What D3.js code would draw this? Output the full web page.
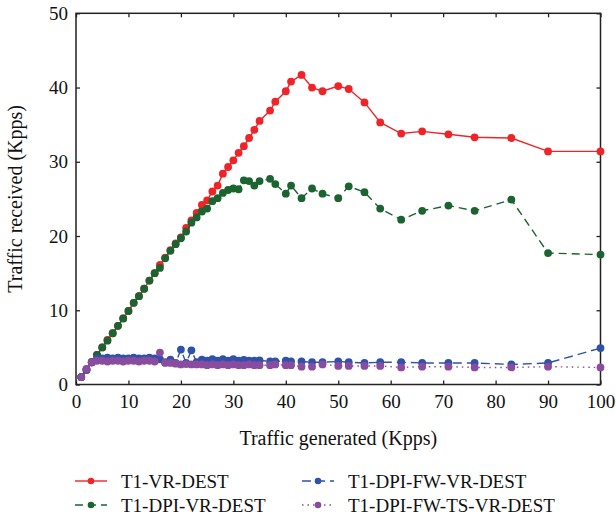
<!DOCTYPE html>
<html>
<head>
<meta charset="utf-8">
<script src="https://cdn.jsdelivr.net/npm/d3@7"></script>
<style>
  body { margin: 0; background: #fff; }
  text { font-family: "Liberation Serif", "DejaVu Serif", serif; fill: #111; }
</style>
</head>
<body>
<div id="chart-area"></div>
<script>
// traffic generated (Kpps), shared by every series
var xs = [1, 2, 3, 4, 5, 6, 7, 8, 9, 10, 11, 12, 13, 14, 15, 16, 17, 18, 19, 20,
  21, 22, 23, 24, 25, 26, 27, 28, 29, 30, 31, 32, 33, 34, 35, 37, 38, 40, 41, 43,
  45, 47, 50, 52, 55, 58, 62, 66, 71, 76, 83, 90, 100];

var vrDest = [1.0, 2.0, 3.0, 4.0, 5.0, 6.0, 6.9, 7.9, 8.9, 9.9, 11.0, 11.9, 12.9, 14.0, 15.0, 16.1, 17.1, 18.1, 19.0, 19.8,
  21.1, 22.1, 23.1, 24.2, 24.8, 26.0, 26.8, 28.4, 29.3, 30.2, 31.2, 32.1, 33.2, 34.3, 35.5, 36.9, 38.1, 39.5, 40.8, 41.7,
  40.0, 39.5, 40.2, 39.8, 38.0, 35.3, 33.8, 34.1, 33.7, 33.3, 33.2, 31.4, 31.4];

var dpiVrDest = [1.0, 2.0, 3.0, 4.0, 5.0, 5.9, 6.9, 7.9, 8.9, 9.9, 11.0, 11.9, 12.9, 14.0, 15.0, 15.7, 17.0, 18.0, 18.9, 19.7,
  20.6, 21.8, 22.5, 23.3, 23.7, 24.7, 25.1, 25.8, 26.2, 26.4, 26.3, 27.5, 27.4, 26.8, 27.4, 27.7, 27.0, 25.7, 26.8, 25.1,
  26.4, 25.7, 25.1, 26.7, 25.9, 23.7, 22.2, 23.4, 24.1, 23.4, 24.9, 17.7, 17.5];

var dpiFwVrDest = [1.0, 2.0, 3.0, 3.5, 3.5, 3.6, 3.5, 3.6, 3.5, 3.5, 3.6, 3.5, 3.5, 3.6, 3.5, 3.4, 3.0, 3.35, 2.9, 4.7,
  2.9, 4.6, 3.0, 3.35, 3.2, 3.4, 3.2, 3.4, 3.2, 3.4, 3.2, 3.3, 3.2, 3.2, 3.25, 3.1, 3.1, 3.2, 3.1, 3.1,
  3.0, 3.0, 3.1, 3.0, 2.9, 3.0, 3.0, 2.9, 2.9, 2.9, 2.7, 2.9, 4.9];

var dpiFwTsVrDest = [1.0, 2.1, 3.0, 3.2, 3.2, 3.1, 3.2, 3.2, 3.1, 3.2, 3.2, 3.1, 3.2, 3.2, 3.1, 4.3, 2.9, 2.9, 2.8, 2.7,
  2.75, 2.7, 2.7, 2.7, 2.6, 2.7, 2.6, 2.7, 2.6, 2.7, 2.6, 2.6, 2.7, 2.6, 2.6, 2.6, 2.7, 2.6, 2.6, 2.4,
  2.4, 2.7, 2.5, 2.5, 2.5, 2.5, 2.3, 2.4, 2.4, 2.3, 2.3, 2.4, 2.3];

var seriesNames = ['T1-VR-DEST', 'T1-DPI-VR-DEST', 'T1-DPI-FW-VR-DEST', 'T1-DPI-FW-TS-VR-DEST'];
var seriesValues = [vrDest, dpiVrDest, dpiFwVrDest, dpiFwTsVrDest];
var colors = ['#ee2428', '#1b6431', '#2f52a8', '#8a4c9e'];
var dashes = [null, '8,5', '9,5', '1.5,4'];

var xTicks = [0, 10, 20, 30, 40, 50, 60, 70, 80, 90, 100];
var yTicks = [0, 10, 20, 30, 40, 50];

var W = 616, H = 519;
var margin = { left: 76, right: 15.5, top: 13.3, bottom: 134.5 };
var width = W - margin.left - margin.right;
var height = H - margin.top - margin.bottom;

var svg = d3.select('#chart-area').append('svg')
    .attr('width', W)
    .attr('height', H);

var g = svg.append('g')
    .attr('transform', 'translate(' + margin.left + ',' + margin.top + ')');

var x = d3.scaleLinear().domain([0, 100]).range([0, width]);
var y = d3.scaleLinear().domain([0, 50]).range([height, 0]);

// axes with inward ticks
var xAxis = g.append('g')
    .attr('transform', 'translate(0,' + height + ')')
    .call(d3.axisBottom(x).tickValues(xTicks).tickSizeInner(-4).tickSizeOuter(0).tickPadding(10));
var xTop = g.append('g')
    .call(d3.axisTop(x).tickValues(xTicks).tickSizeInner(-4).tickSizeOuter(0).tickFormat(''));
var yAxis = g.append('g')
    .call(d3.axisLeft(y).tickValues(yTicks).tickSizeInner(-4).tickSizeOuter(0).tickPadding(8));
var yRight = g.append('g')
    .attr('transform', 'translate(' + width + ',0)')
    .call(d3.axisRight(y).tickValues(yTicks).tickSizeInner(-4).tickSizeOuter(0).tickFormat(''));

g.selectAll('.domain').remove();
g.selectAll('.tick line').attr('stroke', '#222').attr('stroke-width', 1.3);
g.selectAll('.tick text')
    .style('font-family', '"Liberation Serif", serif')
    .style('font-size', '19px')
    .attr('fill', '#111');

g.append('rect')
    .attr('width', width)
    .attr('height', height)
    .attr('fill', 'none')
    .attr('stroke', '#222')
    .attr('stroke-width', 1.5);

// Axis labels
g.append('text')
    .attr('x', width / 2)
    .attr('y', height + 61)
    .attr('text-anchor', 'middle')
    .style('font-size', '20px')
    .text('Traffic generated (Kpps)');

g.append('text')
    .attr('transform', 'rotate(-90)')
    .attr('x', -height / 2)
    .attr('y', -54)
    .attr('text-anchor', 'middle')
    .style('font-size', '20px')
    .text('Traffic received (Kpps)');

// series
var line = d3.line()
    .x(function (d) { return x(d[0]); })
    .y(function (d) { return y(d[1]); });

seriesValues.forEach(function (vals, i) {
    var pts = xs.map(function (v, j) { return [v, vals[j]]; });
    var sg = g.append('g');
    sg.append('path')
        .datum(pts)
        .attr('d', line)
        .attr('fill', 'none')
        .attr('stroke', colors[i])
        .attr('stroke-width', 1.4)
        .attr('stroke-dasharray', dashes[i]);
    sg.selectAll('circle').data(pts).enter().append('circle')
        .attr('cx', function (d) { return x(d[0]); })
        .attr('cy', function (d) { return y(d[1]); })
        .attr('r', 3.9)
        .attr('fill', colors[i]);
});

// legend
var legendPos = [[75, 481], [75, 505], [302, 481], [302, 505]];
seriesNames.forEach(function (name, i) {
    var lg = svg.append('g')
        .attr('transform', 'translate(' + legendPos[i][0] + ',' + legendPos[i][1] + ')');
    lg.append('line')
        .attr('x1', 0).attr('x2', 32)
        .attr('stroke', colors[i])
        .attr('stroke-width', 1.4)
        .attr('stroke-dasharray', dashes[i]);
    lg.append('circle')
        .attr('cx', 16)
        .attr('r', 3.3)
        .attr('fill', colors[i]);
    lg.append('text')
        .attr('x', 46)
        .attr('y', 6.5)
        .style('font-size', '19px')
        .text(name);
});
</script>
</body>
</html>
